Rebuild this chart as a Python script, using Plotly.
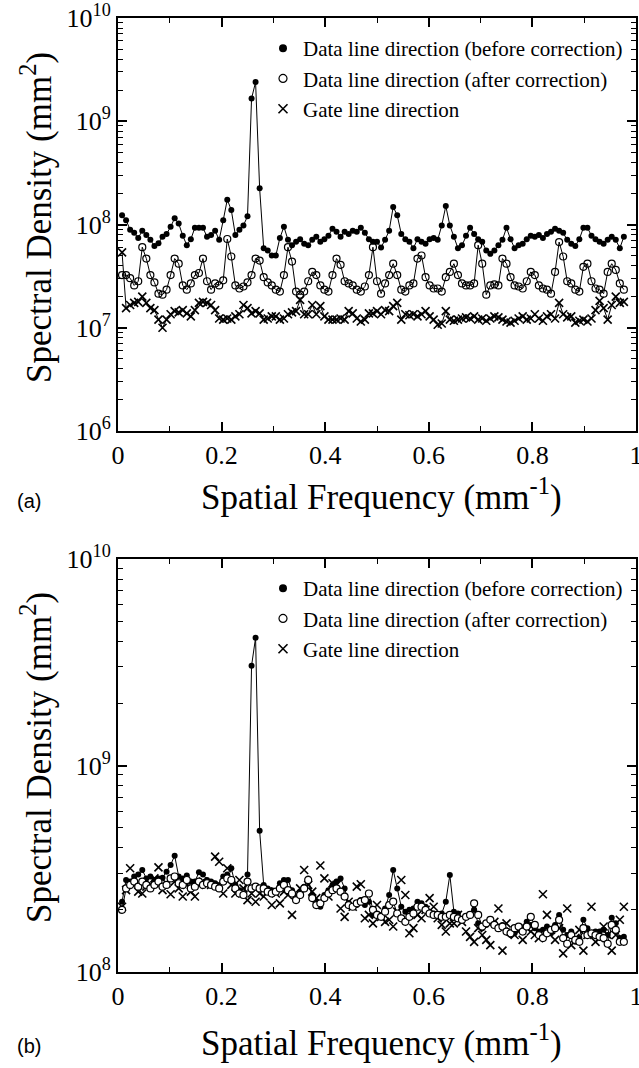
import plotly.graph_objects as go

# spatial frequency bins (mm^-1), 1/128 spacing
FREQ_STEP = 1.0 / 128
N_POINTS = 125
freq = [k * FREQ_STEP for k in range(1, N_POINTS + 1)]

# ---------------- Panel (a) ----------------
a_before = [
    1.23e8, 1.10e8, 8.9e7, 8.3e7, 7.4e7, 8.7e7, 7.9e7, 7.1e7, 6.2e7, 6.6e7,
    7.6e7, 8.1e7, 9.5e7, 1.15e8, 1.02e8, 7.8e7, 6.3e7, 7.2e7, 9.3e7, 9.3e7,
    9.3e7, 7.6e7, 7.9e7, 8.7e7, 7.1e7, 1.10e8, 1.74e8, 1.38e8, 7.9e7, 8.9e7,
    9.8e7, 1.20e8, 1.66e9, 2.40e9, 2.24e8, 5.9e7, 5.6e7, 5.0e7, 5.0e7, 7.4e7,
    9.5e7, 7.1e7, 6.3e7, 6.8e7, 7.2e7, 6.5e7, 6.3e7, 7.1e7, 7.6e7, 6.8e7,
    7.2e7, 7.8e7, 9.1e7, 8.5e7, 7.6e7, 8.5e7, 8.1e7, 8.7e7, 8.5e7, 9.3e7,
    8.3e7, 7.2e7, 6.8e7, 6.8e7, 6.0e7, 7.1e7, 8.7e7, 1.48e8, 1.23e8, 8.1e7,
    7.2e7, 6.8e7, 5.9e7, 7.2e7, 6.8e7, 6.5e7, 7.2e7, 7.4e7, 7.1e7, 9.8e7,
    1.51e8, 9.8e7, 7.6e7, 5.9e7, 6.3e7, 7.8e7, 9.3e7, 8.1e7, 7.2e7, 6.8e7,
    5.6e7, 5.2e7, 5.6e7, 6.3e7, 7.1e7, 9.3e7, 7.2e7, 5.9e7, 6.3e7, 6.5e7,
    7.2e7, 7.8e7, 7.6e7, 7.9e7, 7.4e7, 8.1e7, 8.5e7, 9.1e7, 8.7e7, 8.3e7,
    7.1e7, 6.5e7, 6.2e7, 7.2e7, 9.3e7, 9.3e7, 7.8e7, 7.2e7, 6.8e7, 6.5e7,
    7.1e7, 7.6e7, 7.1e7, 5.9e7, 7.6e7,
]
a_after = [
    3.24e7, 3.24e7, 3.02e7, 2.57e7, 2.82e7, 6.03e7, 4.68e7, 3.24e7, 2.75e7, 2.14e7,
    2.09e7, 2.34e7, 3.24e7, 4.68e7, 4.17e7, 2.57e7, 2.34e7, 2.69e7, 3.24e7, 3.39e7,
    4.68e7, 2.82e7, 2.34e7, 2.69e7, 2.57e7, 2.88e7, 7.24e7, 4.90e7, 2.57e7, 2.40e7,
    2.51e7, 2.75e7, 3.24e7, 4.68e7, 4.47e7, 3.09e7, 2.75e7, 2.57e7, 2.34e7, 2.24e7,
    3.24e7, 6.03e7, 4.37e7, 2.24e7, 2.09e7, 2.24e7, 2.82e7, 3.47e7, 3.24e7, 2.57e7,
    2.34e7, 2.24e7, 3.24e7, 4.68e7, 4.07e7, 2.82e7, 2.69e7, 2.57e7, 2.34e7, 2.24e7,
    2.51e7, 3.24e7, 6.03e7, 2.82e7, 2.14e7, 2.69e7, 3.24e7, 4.17e7, 3.24e7, 2.34e7,
    2.24e7, 2.57e7, 2.69e7, 4.68e7, 5.01e7, 3.09e7, 2.57e7, 2.40e7, 2.40e7, 2.24e7,
    3.09e7, 3.47e7, 4.17e7, 3.24e7, 2.69e7, 2.57e7, 2.57e7, 2.69e7, 6.31e7, 4.17e7,
    2.09e7, 2.57e7, 2.63e7, 2.57e7, 4.68e7, 4.17e7, 3.09e7, 2.57e7, 2.51e7, 2.40e7,
    2.82e7, 3.47e7, 3.24e7, 2.57e7, 2.40e7, 2.34e7, 2.14e7, 3.47e7, 6.76e7, 4.90e7,
    2.82e7, 2.69e7, 2.34e7, 2.24e7, 3.89e7, 4.17e7, 2.82e7, 2.40e7, 2.34e7, 2.14e7,
    3.47e7, 4.17e7, 3.63e7, 2.69e7, 2.34e7,
]
a_gate = [
    5.37e7, 1.55e7, 1.66e7, 1.74e7, 1.78e7, 2.00e7, 1.74e7, 1.55e7, 1.48e7, 1.20e7,
    1.00e7, 1.20e7, 1.35e7, 1.45e7, 1.41e7, 1.48e7, 1.38e7, 1.29e7, 1.48e7, 1.74e7,
    1.78e7, 1.74e7, 1.66e7, 1.48e7, 1.23e7, 1.20e7, 1.23e7, 1.20e7, 1.29e7, 1.35e7,
    1.66e7, 1.55e7, 1.38e7, 1.45e7, 1.38e7, 1.20e7, 1.23e7, 1.29e7, 1.29e7, 1.20e7,
    1.23e7, 1.35e7, 1.41e7, 1.45e7, 1.86e7, 1.35e7, 1.35e7, 1.66e7, 1.35e7, 1.62e7,
    1.29e7, 1.20e7, 1.20e7, 1.20e7, 1.23e7, 1.20e7, 1.45e7, 1.38e7, 1.23e7, 1.15e7,
    1.20e7, 1.38e7, 1.38e7, 1.45e7, 1.35e7, 1.48e7, 1.45e7, 1.62e7, 1.74e7, 1.20e7,
    1.35e7, 1.32e7, 1.35e7, 1.29e7, 1.35e7, 1.45e7, 1.29e7, 1.20e7, 1.07e7, 1.10e7,
    1.45e7, 1.20e7, 1.17e7, 1.20e7, 1.23e7, 1.26e7, 1.23e7, 1.29e7, 1.20e7, 1.23e7,
    1.17e7, 1.23e7, 1.29e7, 1.26e7, 1.20e7, 1.15e7, 1.12e7, 1.17e7, 1.23e7, 1.29e7,
    1.20e7, 1.23e7, 1.35e7, 1.23e7, 1.17e7, 1.29e7, 1.35e7, 1.23e7, 1.74e7, 1.35e7,
    1.26e7, 1.29e7, 1.12e7, 1.17e7, 1.20e7, 1.15e7, 1.23e7, 1.48e7, 1.82e7, 1.55e7,
    1.20e7, 1.66e7, 2.00e7, 1.74e7, 1.78e7,
]

# ---------------- Panel (b) ----------------
b_before = [
    2.19e8, 2.79e8, 2.74e8, 2.90e8, 2.97e8, 3.12e8, 2.84e8, 2.90e8, 2.79e8, 2.84e8,
    2.86e8, 3.06e8, 3.30e8, 3.66e8, 2.90e8, 2.84e8, 2.93e8, 2.74e8, 2.74e8, 3.04e8,
    2.97e8, 2.79e8, 2.74e8, 2.69e8, 2.64e8, 2.90e8, 2.97e8, 3.18e8, 2.64e8, 2.49e8,
    2.40e8, 2.97e8, 3.04e9, 4.16e9, 4.83e8, 2.64e8, 2.54e8, 2.49e8, 2.45e8, 2.69e8,
    2.79e8, 2.79e8, 2.49e8, 2.32e8, 2.45e8, 2.59e8, 2.84e8, 2.36e8, 2.19e8, 2.07e8,
    2.36e8, 2.49e8, 2.64e8, 2.74e8, 2.84e8, 2.54e8, 2.15e8, 2.07e8, 2.11e8, 2.23e8,
    2.11e8, 2.19e8, 1.89e8, 1.92e8, 1.89e8, 2.03e8, 2.36e8, 3.12e8, 2.54e8, 2.07e8,
    1.96e8, 2.00e8, 2.03e8, 2.19e8, 2.15e8, 2.07e8, 1.96e8, 1.92e8, 1.89e8, 1.92e8,
    2.19e8, 2.95e8, 1.96e8, 1.92e8, 1.79e8, 1.85e8, 1.89e8, 2.00e8, 1.72e8, 1.63e8,
    1.69e8, 1.75e8, 1.72e8, 1.66e8, 1.69e8, 1.57e8, 1.51e8, 1.54e8, 1.60e8, 1.63e8,
    1.75e8, 1.69e8, 1.63e8, 1.57e8, 1.60e8, 1.66e8, 1.54e8, 1.69e8, 1.89e8, 1.60e8,
    1.51e8, 1.57e8, 1.40e8, 1.46e8, 1.79e8, 1.63e8, 1.51e8, 1.57e8, 1.57e8, 1.60e8,
    1.51e8, 1.83e8, 1.72e8, 1.46e8, 1.48e8,
]
b_after = [
    2.00e8, 2.54e8, 2.64e8, 2.74e8, 2.59e8, 2.74e8, 2.64e8, 2.54e8, 2.64e8, 2.74e8,
    2.59e8, 2.64e8, 2.84e8, 2.90e8, 2.69e8, 2.64e8, 2.79e8, 2.54e8, 2.59e8, 2.74e8,
    2.64e8, 2.69e8, 2.64e8, 2.59e8, 2.54e8, 2.74e8, 2.84e8, 2.79e8, 2.54e8, 2.40e8,
    2.36e8, 2.74e8, 2.54e8, 2.59e8, 2.54e8, 2.54e8, 2.45e8, 2.40e8, 2.45e8, 2.54e8,
    2.64e8, 2.49e8, 2.40e8, 2.23e8, 2.36e8, 2.54e8, 2.79e8, 2.28e8, 2.11e8, 2.15e8,
    2.28e8, 2.40e8, 2.49e8, 2.54e8, 2.45e8, 2.32e8, 2.11e8, 2.07e8, 2.15e8, 2.19e8,
    2.23e8, 2.40e8, 2.00e8, 1.89e8, 1.85e8, 1.96e8, 2.11e8, 2.19e8, 1.92e8, 1.82e8,
    1.75e8, 1.85e8, 1.92e8, 2.07e8, 2.07e8, 2.00e8, 1.92e8, 1.89e8, 1.89e8, 1.85e8,
    1.85e8, 1.89e8, 1.85e8, 1.82e8, 1.79e8, 1.85e8, 1.89e8, 2.15e8, 1.89e8, 1.66e8,
    1.72e8, 1.79e8, 1.69e8, 1.63e8, 1.66e8, 1.57e8, 1.54e8, 1.63e8, 1.66e8, 1.57e8,
    1.66e8, 1.85e8, 1.69e8, 1.51e8, 1.46e8, 1.54e8, 1.60e8, 1.63e8, 1.79e8, 1.46e8,
    1.37e8, 1.51e8, 1.43e8, 1.40e8, 1.63e8, 1.51e8, 1.54e8, 1.51e8, 1.48e8, 1.46e8,
    1.37e8, 1.69e8, 1.60e8, 1.40e8, 1.40e8,
]
b_gate = [
    2.07e8, 2.49e8, 3.18e8, 2.64e8, 2.45e8, 2.40e8, 2.59e8, 2.64e8, 2.84e8, 3.21e8,
    2.49e8, 2.69e8, 2.38e8, 2.74e8, 2.54e8, 2.32e8, 2.64e8, 2.45e8, 2.32e8, 2.64e8,
    2.74e8, 2.69e8, 2.64e8, 3.62e8, 3.42e8, 2.40e8, 3.18e8, 2.64e8, 2.40e8, 2.79e8,
    2.54e8, 2.23e8, 2.40e8, 2.19e8, 2.40e8, 2.32e8, 2.45e8, 2.11e8, 2.40e8, 2.15e8,
    2.45e8, 2.36e8, 1.89e8, 2.36e8, 2.54e8, 3.12e8, 2.64e8, 2.45e8, 2.28e8, 3.28e8,
    2.84e8, 2.32e8, 2.69e8, 2.64e8, 2.03e8, 1.85e8, 2.19e8, 2.07e8, 2.59e8, 2.66e8,
    1.82e8, 1.89e8, 1.72e8, 2.11e8, 1.85e8, 1.75e8, 1.79e8, 1.66e8, 1.96e8, 2.79e8,
    2.36e8, 1.54e8, 1.63e8, 1.89e8, 1.82e8, 2.00e8, 2.28e8, 2.07e8, 1.82e8, 1.69e8,
    1.57e8, 1.72e8, 1.72e8, 1.89e8, 1.75e8, 1.57e8, 1.48e8, 1.40e8, 1.63e8, 1.51e8,
    1.43e8, 1.35e8, 1.75e8, 2.03e8, 1.27e8, 1.72e8, 1.57e8, 1.51e8, 1.60e8, 1.43e8,
    1.63e8, 1.57e8, 1.51e8, 1.46e8, 2.38e8, 1.89e8, 1.60e8, 1.43e8, 1.63e8, 1.23e8,
    2.03e8, 1.35e8, 1.46e8, 1.60e8, 1.27e8, 1.51e8, 2.07e8, 1.40e8, 1.46e8, 1.66e8,
    1.51e8, 1.27e8, 1.51e8, 1.79e8, 2.07e8,
]

legend_names = [
    "Data line direction (before correction)",
    "Data line direction (after correction)",
    "Gate line direction",
]
y_ticks_a = [1e6, 1e7, 1e8, 1e9, 1e10]
y_ticks_b = [1e8, 1e9, 1e10]
x_ticks = [0, 0.2, 0.4, 0.6, 0.8, 1.0]
x_ticktext = ["0", "0.2", "0.4", "0.6", "0.8", "1"]

SERIF = "Liberation Serif"
SANS = "Liberation Sans"

W, H = 639, 1068
ML, MR, MT, MB = 118, 3, 18, 96
plot_h = H - MT - MB
plot_w = W - ML - MR


def py(pix):
    return (H - MB - pix) / plot_h


def px(pix):
    return (pix - ML) / plot_w


fig = go.Figure()

filled = dict(symbol="circle", size=6, color="black")
hollow = dict(symbol="circle-open", size=7, color="black", line=dict(width=1.2))
cross = dict(symbol="x-thin-open", size=8, color="black", line=dict(width=1.6))
thin = dict(color="black", width=1)

# panel (a)
fig.add_trace(go.Scatter(x=freq, y=a_before, mode="lines+markers", line=thin, marker=filled,
                         xaxis="x", yaxis="y", showlegend=False))
fig.add_trace(go.Scatter(x=freq, y=a_after, mode="lines+markers", line=thin, marker=hollow,
                         xaxis="x", yaxis="y", showlegend=False))
fig.add_trace(go.Scatter(x=freq, y=a_gate, mode="lines+markers", line=thin, marker=cross,
                         xaxis="x", yaxis="y", showlegend=False))
# panel (b)
fig.add_trace(go.Scatter(x=freq, y=b_gate, mode="markers", marker=cross,
                         xaxis="x2", yaxis="y2", showlegend=False))
fig.add_trace(go.Scatter(x=freq, y=b_before, mode="lines+markers", line=thin, marker=filled,
                         xaxis="x2", yaxis="y2", showlegend=False))
fig.add_trace(go.Scatter(x=freq, y=b_after, mode="lines+markers", line=thin,
                         marker=dict(symbol="circle", size=7, color="white",
                                     line=dict(color="black", width=1.2)),
                         xaxis="x2", yaxis="y2", showlegend=False))

# legend-only entries (marker only, as in the original)
legend_markers = [
    dict(symbol="circle", size=8, color="black"),
    dict(symbol="circle-open", size=8, color="black", line=dict(width=1.2)),
    dict(symbol="x-thin-open", size=9, color="black", line=dict(width=1.6)),
]
for lg, xa, ya in (("legend", "x", "y"), ("legend2", "x2", "y2")):
    for name, mk in zip(legend_names, legend_markers):
        fig.add_trace(go.Scatter(x=[None], y=[None], mode="markers", marker=mk, name=name,
                                 xaxis=xa, yaxis=ya, legend=lg, showlegend=True))


def axis_common():
    return dict(
        showline=True, linecolor="black", linewidth=2, mirror="ticks",
        ticks="inside", ticklen=9, tickwidth=1.5, tickcolor="black",
        showgrid=False, zeroline=False, ticklabeloverflow="allow", automargin=False,
        tickfont=dict(family=SERIF, size=26, color="black"),
    )


def log_minor(lo, hi):
    vals = []
    for e in range(lo, hi):
        for m in range(2, 10):
            vals.append(m * 10 ** e)
    return vals


x_minor = dict(tickvals=[0.1, 0.3, 0.5, 0.7, 0.9], ticks="inside", ticklen=5,
               tickwidth=1, tickcolor="black")

fig.update_layout(
    width=W, height=H,
    margin=dict(l=ML, r=MR, t=MT, b=MB),
    paper_bgcolor="white", plot_bgcolor="white",
    xaxis=dict(domain=[0, 1], range=[0, 1], anchor="y", tickvals=x_ticks, ticktext=x_ticktext,
               minor=x_minor, **axis_common()),
    yaxis=dict(domain=[py(431), 1], type="log", range=[6, 10], anchor="x",
               tickvals=y_ticks_a,
               ticktext=["10<sup>6</sup>", "10<sup>7</sup>", "10<sup>8</sup>",
                         "10<sup>9</sup>", "10<sup>10</sup>"],
               minor=dict(tickvals=log_minor(6, 10), ticks="inside", ticklen=5,
                          tickwidth=1, tickcolor="black"),
               **axis_common()),
    xaxis2=dict(domain=[0, 1], range=[0, 1], anchor="y2", tickvals=x_ticks, ticktext=x_ticktext,
                minor=x_minor, **axis_common()),
    yaxis2=dict(domain=[0, py(559)], type="log", range=[8, 10], anchor="x2",
                tickvals=y_ticks_b,
                ticktext=["10<sup>8</sup>", "10<sup>9</sup>", "10<sup>10</sup>"],
                minor=dict(tickvals=log_minor(8, 10), ticks="inside", ticklen=5,
                           tickwidth=1, tickcolor="black"),
                **axis_common()),
    legend=dict(x=px(263), y=py(28), xanchor="left", yanchor="top",
                bgcolor="rgba(0,0,0,0)", font=dict(family=SERIF, size=21, color="black"),
                tracegroupgap=0, itemwidth=30),
    legend2=dict(x=px(263), y=py(568), xanchor="left", yanchor="top",
                 bgcolor="rgba(0,0,0,0)", font=dict(family=SERIF, size=21, color="black"),
                 tracegroupgap=0, itemwidth=30),
)

ann_font = dict(family=SERIF, size=35, color="black")
annotations = [
    dict(text="Spectral Density (mm<sup>2</sup>)", x=px(36), y=py(218), textangle=-90),
    dict(text="Spectral Density (mm<sup>2</sup>)", x=px(36), y=py(758), textangle=-90),
    dict(text="Spatial Frequency (mm<sup>-1</sup>)", x=px(381), y=py(494)),
    dict(text="Spatial Frequency (mm<sup>-1</sup>)", x=px(381), y=py(1040)),
]
for a in annotations:
    fig.add_annotation(xref="paper", yref="paper", showarrow=False,
                       xanchor="center", yanchor="middle", font=ann_font, **a)
for lab, yy in (("(a)", 501), ("(b)", 1046)):
    fig.add_annotation(text=lab, xref="paper", yref="paper", x=px(29), y=py(yy),
                       showarrow=False, xanchor="center", yanchor="middle",
                       font=dict(family=SANS, size=20, color="black"))

fig.write_html("out.html",
               config={"displayModeBar": False},
               post_script="document.body.style.margin='0';document.body.style.overflow='hidden';")
